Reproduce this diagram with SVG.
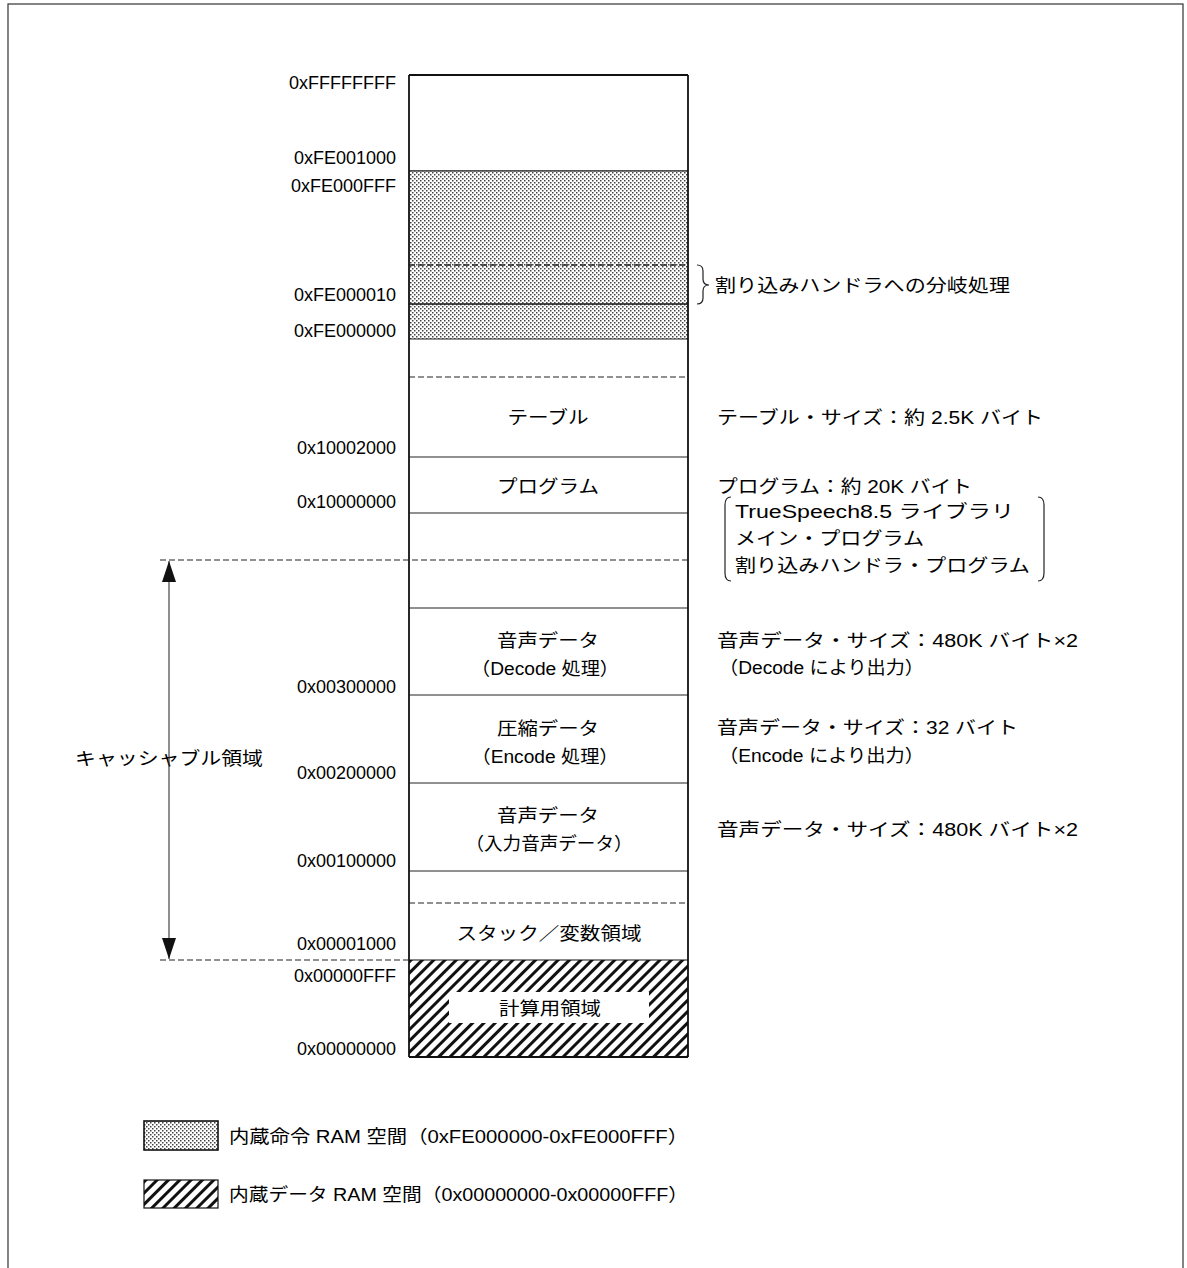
<svg xmlns="http://www.w3.org/2000/svg" width="1187" height="1268" viewBox="0 0 1187 1268">
<style>
.addr{font-family:"Liberation Sans","Noto Sans CJK JP",sans-serif;font-size:18px;fill:#000;text-anchor:end}
.t{font-family:"Liberation Sans","Noto Sans CJK JP",sans-serif;font-size:18px;fill:#000}
.c{text-anchor:middle}
.solid{stroke:#111;stroke-width:1.2;fill:none}
.edge{stroke:#111;stroke-width:1.8;fill:none}
.dash{stroke:#222;stroke-width:1.2;stroke-dasharray:6 3;fill:none}
.thin{stroke:#222;stroke-width:1.2;fill:none}
</style>
<defs>
<pattern id="dots" width="4" height="4" patternUnits="userSpaceOnUse">
<rect width="4" height="4" fill="#fff"/>
<rect x="0" y="0" width="1.5" height="1.5" fill="#444"/>
<rect x="2" y="2" width="1.5" height="1.5" fill="#444"/>
</pattern>
<pattern id="hatch" width="8" height="8" patternUnits="userSpaceOnUse" patternTransform="rotate(45)">
<rect width="8" height="8" fill="#fff"/>
<line x1="0" y1="0" x2="0" y2="8" stroke="#111" stroke-width="6"/>
</pattern>
<marker id="arr" viewBox="0 0 21 14" refX="21" refY="7" markerWidth="21" markerHeight="14" markerUnits="userSpaceOnUse" orient="auto-start-reverse">
<path d="M0,0 L21,7 L0,14 z" fill="#111"/>
</marker>
</defs>
<rect x="0" y="0" width="1187" height="1268" fill="#fff"/>
<rect x="8" y="4" width="1175" height="1300" fill="none" stroke="#333" stroke-width="1.2"/>

<g id="memory-map">
<g id="seg-top">
<line class="thin" x1="409" y1="171" x2="688" y2="171"/>
</g>
<g id="seg-iram">
<rect x="409" y="171" width="279" height="168" fill="url(#dots)"/>
<line class="solid" x1="409" y1="171" x2="688" y2="171"/>
<line class="dash" x1="409" y1="265" x2="688" y2="265" style="stroke-width:1.6"/>
<line class="solid" x1="409" y1="304" x2="688" y2="304" style="stroke-width:1.6"/>
<line class="thin" x1="409" y1="339" x2="688" y2="339"/>
</g>
<g id="seg-gap1">
<line class="dash" x1="409" y1="377" x2="688" y2="377"/>
</g>
<g id="seg-table">
<text class="t c" x="548" y="424" textLength="81" lengthAdjust="spacingAndGlyphs">テーブル</text>
<line class="thin" x1="409" y1="457" x2="688" y2="457"/>
</g>
<g id="seg-program">
<text class="t c" x="548" y="493" textLength="102" lengthAdjust="spacingAndGlyphs">プログラム</text>
<line class="thin" x1="409" y1="513" x2="688" y2="513"/>
</g>
<g id="seg-gap2">
<line class="thin" x1="409" y1="608" x2="688" y2="608"/>
</g>
<g id="seg-decode">
<text class="t c" x="548" y="647" textLength="102" lengthAdjust="spacingAndGlyphs">音声データ</text>
<text class="t c" x="545" y="675" textLength="148" lengthAdjust="spacingAndGlyphs">（Decode 処理）</text>
<line class="thin" x1="409" y1="695" x2="688" y2="695"/>
</g>
<g id="seg-encode">
<text class="t c" x="548" y="735" textLength="102" lengthAdjust="spacingAndGlyphs">圧縮データ</text>
<text class="t c" x="545" y="763" textLength="147" lengthAdjust="spacingAndGlyphs">（Encode 処理）</text>
<line class="thin" x1="409" y1="783" x2="688" y2="783"/>
</g>
<g id="seg-input">
<text class="t c" x="548" y="822" textLength="102" lengthAdjust="spacingAndGlyphs">音声データ</text>
<text class="t c" x="549" y="850" textLength="167" lengthAdjust="spacingAndGlyphs">（入力音声データ）</text>
<line class="thin" x1="409" y1="871" x2="688" y2="871"/>
</g>
<g id="seg-gap3">
<line class="dash" x1="409" y1="903" x2="688" y2="903"/>
</g>
<g id="seg-stack">
<text class="t c" x="549" y="940" textLength="185" lengthAdjust="spacingAndGlyphs">スタック／変数領域</text>
</g>
<g id="seg-dram">
<rect x="409" y="960" width="279" height="97" fill="url(#hatch)"/>
<line class="solid" x1="409" y1="960" x2="688" y2="960"/>
<rect x="449" y="992" width="200" height="31" fill="#fff"/>
<text class="t c" x="550" y="1015" textLength="102" lengthAdjust="spacingAndGlyphs">計算用領域</text>
</g>
<g id="column-frame">
<line class="edge" x1="409" y1="75" x2="688" y2="75"/>
<line class="edge" x1="409" y1="75" x2="409" y2="1057"/>
<line class="edge" x1="688" y1="75" x2="688" y2="1057"/>
<line class="edge" x1="409" y1="1057" x2="688" y2="1057"/>
</g>
</g>

<g id="addresses">
<text class="addr" x="396" y="89">0xFFFFFFFF</text>
<text class="addr" x="396" y="164">0xFE001000</text>
<text class="addr" x="396" y="192">0xFE000FFF</text>
<text class="addr" x="396" y="301">0xFE000010</text>
<text class="addr" x="396" y="337">0xFE000000</text>
<text class="addr" x="396" y="454">0x10002000</text>
<text class="addr" x="396" y="508">0x10000000</text>
<text class="addr" x="396" y="693">0x00300000</text>
<text class="addr" x="396" y="779">0x00200000</text>
<text class="addr" x="396" y="867">0x00100000</text>
<text class="addr" x="396" y="950">0x00001000</text>
<text class="addr" x="396" y="982">0x00000FFF</text>
<text class="addr" x="396" y="1055">0x00000000</text>
</g>

<g id="annotations">
<g id="note-branch">
<path class="thin" d="M697,265 Q703,265 703,271 L703,279 Q703,285 709,285 Q703,285 703,291 L703,298 Q703,304 697,304"/>
<text class="t" x="715" y="292" textLength="295" lengthAdjust="spacingAndGlyphs">割り込みハンドラへの分岐処理</text>
</g>
<g id="note-table">
<text class="t" x="717" y="424" textLength="326" lengthAdjust="spacingAndGlyphs">テーブル・サイズ：約 2.5K バイト</text>
</g>
<g id="note-program">
<text class="t" x="717" y="493" textLength="255" lengthAdjust="spacingAndGlyphs">プログラム：約 20K バイト</text>
<path class="thin" d="M731,497 Q725,497 725,505 L725,573 Q725,581 731,581"/>
<path class="thin" d="M1038,497 Q1044,497 1044,505 L1044,573 Q1044,581 1038,581"/>
<text class="t" x="735" y="518" textLength="279" lengthAdjust="spacingAndGlyphs">TrueSpeech8.5 ライブラリ</text>
<text class="t" x="735" y="545" textLength="189" lengthAdjust="spacingAndGlyphs">メイン・プログラム</text>
<text class="t" x="735" y="572" textLength="295" lengthAdjust="spacingAndGlyphs">割り込みハンドラ・プログラム</text>
</g>
<g id="note-decode">
<text class="t" x="717" y="647" textLength="361" lengthAdjust="spacingAndGlyphs">音声データ・サイズ：480K バイト×2</text>
<text class="t" x="719" y="674" textLength="205" lengthAdjust="spacingAndGlyphs">（Decode により出力）</text>
</g>
<g id="note-encode">
<text class="t" x="717" y="734" textLength="301" lengthAdjust="spacingAndGlyphs">音声データ・サイズ：32 バイト</text>
<text class="t" x="719" y="762" textLength="205" lengthAdjust="spacingAndGlyphs">（Encode により出力）</text>
</g>
<g id="note-input">
<text class="t" x="717" y="836" textLength="361" lengthAdjust="spacingAndGlyphs">音声データ・サイズ：480K バイト×2</text>
</g>
<g id="note-cacheable">
<text class="t" x="75" y="765" textLength="188" lengthAdjust="spacingAndGlyphs">キャッシャブル領域</text>
</g>
</g>

<g id="connectors">
<line class="dash" x1="160" y1="560" x2="688" y2="560"/>
<line class="dash" x1="160" y1="960" x2="409" y2="960"/>
<line x1="169" y1="561" x2="169" y2="959" stroke="#333" stroke-width="1.1" marker-start="url(#arr)" marker-end="url(#arr)"/>
</g>

<g id="legend">
<g id="legend-iram">
<rect x="144" y="1121" width="74" height="29" fill="url(#dots)" stroke="#111" stroke-width="1.6"/>
<text class="t" x="229" y="1143" textLength="459" lengthAdjust="spacingAndGlyphs">内蔵命令 RAM 空間（0xFE000000-0xFE000FFF）</text>
</g>
<g id="legend-dram">
<rect x="144" y="1180" width="74" height="28" fill="url(#hatch)" stroke="#111" stroke-width="1.2"/>
<text class="t" x="229" y="1201" textLength="459" lengthAdjust="spacingAndGlyphs">内蔵データ RAM 空間（0x00000000-0x00000FFF）</text>
</g>
</g>
</svg>
